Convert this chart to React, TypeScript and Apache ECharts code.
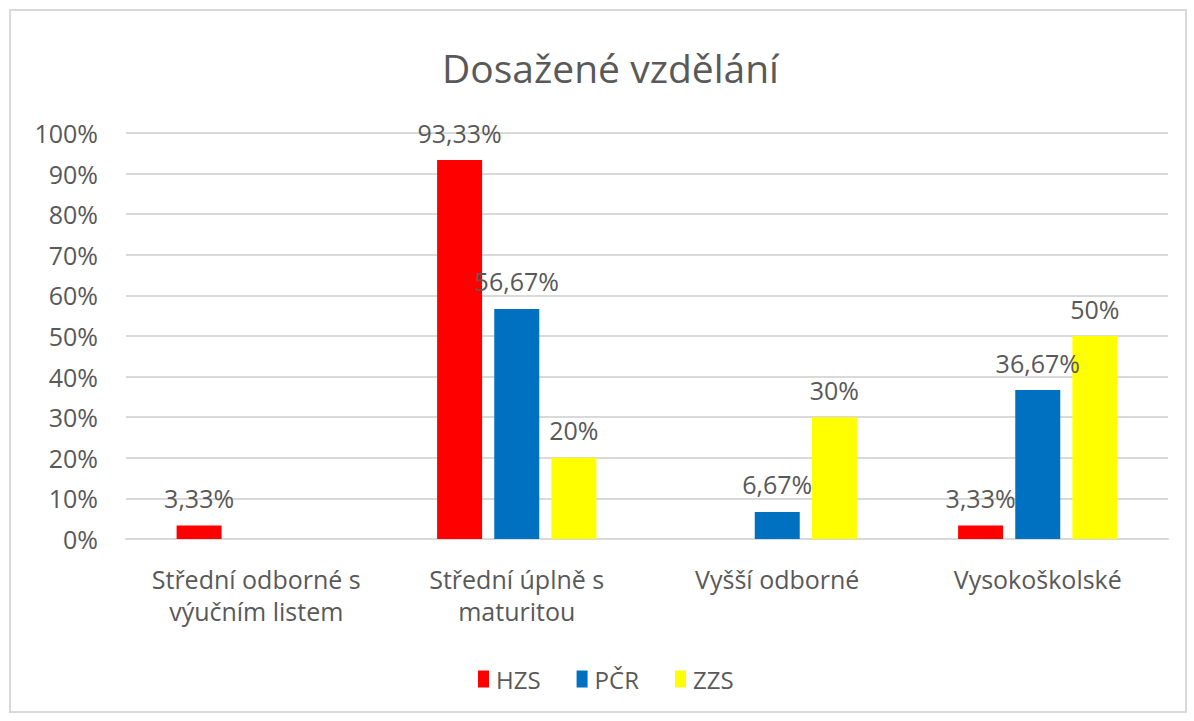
import React, { useEffect, useRef } from "react";
import * as echarts from "echarts";

const categories = [
  "Střední odborné s\nvýučním listem",
  "Střední úplně s\nmaturitou",
  "Vyšší odborné",
  "Vysokoškolské",
];
const hzs: (number | null)[] = [3.33, 93.33, null, 3.33];
const pcr: (number | null)[] = [null, 56.67, 6.67, 36.67];
const zzs: (number | null)[] = [null, 20, 30, 50];
const seriesNames = ["HZS", "PČR", "ZZS"];
const colors = ["#FF0000", "#0070C0", "#FFFF00"];

const FONT = "Open Sans";
const TEXT = "#595959";

export default function App() {
  const ref = useRef<HTMLDivElement>(null);
  useEffect(() => {
    document.body.style.margin = "0";
    const chart = echarts.init(ref.current!, null, { renderer: "svg" });
    const fmt = (p: any) => {
      const v = p.value;
      if (v === null || v === undefined || v === "-") return "";
      return String(v).replace(".", ",") + "%";
    };
    const mk = (name: string, data: (number | null)[], color: string) => ({
      name,
      type: "bar",
      data,
      barWidth: 45,
      barGap: "27%",
      itemStyle: { color },
      label: {
        show: true,
        position: "top",
        distance: 15,
        formatter: fmt,
        color: TEXT,
        fontFamily: FONT,
        fontSize: 25,
      },
    });
    chart.setOption({
      animation: false,
      backgroundColor: "#ffffff",
      graphic: [
        {
          type: "rect",
          shape: { x: 10, y: 10, width: 1176, height: 702 },
          style: { fill: "none", stroke: "#d9d9d9", lineWidth: 2 },
          silent: true,
        },
      ],
      title: {
        text: "Dosažené vzdělání",
        left: 437,
        top: 43,
        textStyle: {
          fontFamily: FONT,
          fontSize: 39,
          fontWeight: "normal",
          color: TEXT,
        },
      },
      legend: {
        bottom: 25,
        left: 473,
        itemWidth: 11,
        itemHeight: 17,
        itemGap: 36,
        icon: "rect",
        data: seriesNames,
        textStyle: { fontFamily: FONT, fontSize: 24, color: TEXT, padding: [0, 0, 0, 2] },
      },
      grid: { left: 126, right: 26, top: 133, bottom: 182 },
      xAxis: {
        type: "category",
        data: categories,
        axisLine: { show: true, lineStyle: { color: "#d9d9d9", width: 2 } },
        axisTick: { show: false },
        axisLabel: {
          color: TEXT,
          fontFamily: FONT,
          fontSize: 25,
          lineHeight: 32,
          margin: 24,
          interval: 0,
        },
      },
      yAxis: {
        type: "value",
        min: 0,
        max: 100,
        interval: 10,
        axisLine: { show: false },
        axisTick: { show: false },
        splitLine: { lineStyle: { color: "#d9d9d9", width: 2 } },
        axisLabel: {
          formatter: "{value}%",
          color: TEXT,
          fontFamily: FONT,
          fontSize: 25,
          margin: 28,
        },
      },
      series: [
        mk(seriesNames[0], hzs, colors[0]),
        mk(seriesNames[1], pcr, colors[1]),
        mk(seriesNames[2], zzs, colors[2]),
      ],
    });
    return () => chart.dispose();
  }, []);
  return <div ref={ref} style={{ width: 1194, height: 721 }} />;
}
